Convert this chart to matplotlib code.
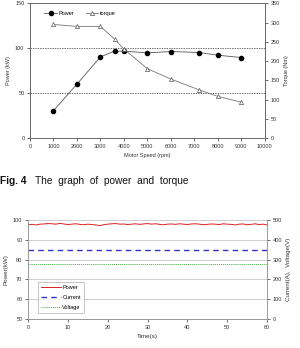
import matplotlib.pyplot as plt

plt.rcParams['font.family'] = ['Liberation Sans', 'DejaVu Sans']

# top chart data
rpm = [1000, 2000, 3000, 3600, 4000, 5000, 6000, 7200, 8000, 9000]
power_kw = [30.4, 60, 90.4, 96.7, 96.7, 94.8, 96.3, 95.2, 92.2, 89.6]
torque_nm = [295, 290, 290, 257, 231, 180, 153, 125, 108, 93]

# bottom chart data (sampled every second)
time_s = list(range(0, 61))
power_t = [97.6, 97.8, 97.5, 97.9, 98.0, 98.2, 98.1, 97.9, 98.3, 98.0,
           97.7, 97.9, 98.1, 97.8, 97.6, 97.9, 97.7, 97.5, 97.2, 97.6,
           97.9, 98.1, 98.2, 97.9, 98.0, 97.7, 97.9, 98.1, 97.8, 98.0,
           98.2, 97.9, 98.1, 97.8, 97.6, 97.9, 98.0, 97.8, 98.1, 97.9,
           97.7, 98.0, 98.1, 97.9, 97.6, 97.8, 98.0, 97.9, 97.7, 98.1,
           97.9, 97.8, 97.5, 97.9, 98.0, 97.6, 97.8, 98.1, 97.7, 97.9, 97.5]
current_a = [350] * len(time_s)
voltage_v = [280] * len(time_s)

fig = plt.figure(figsize=(3.0, 3.48), dpi=100)

fs = 4
tick_c = '#333333'

# ---- top chart ----
ax1 = fig.add_axes([0.1, 1 - 138 / 348, 0.783, 134.7 / 348])
ax1.plot(rpm, power_kw, color='#555555', lw=0.6, marker='o', ms=3,
         mfc='black', mec='black', label='Power')
ax1.set_xlim(0, 10000)
ax1.set_ylim(0, 150)
ax1.set_xticks(range(0, 10001, 1000))
ax1.set_yticks([0, 50, 100, 150])
ax1.axhline(100, color='#333333', lw=0.5, ls=(0, (2, 1.5)))
ax1.axhline(50, color='#333333', lw=0.5, ls=(0, (2, 1.5)))
ax1.set_ylabel('Power (kW)', fontsize=fs, color=tick_c, labelpad=3)
ax1.set_xlabel('Motor Speed (rpm)', fontsize=fs, color=tick_c, labelpad=3)
ax1.tick_params(labelsize=fs, colors=tick_c, length=2, width=0.5, pad=2)

ax2 = ax1.twinx()
ax2.plot(rpm, torque_nm, color='#777777', lw=0.6, marker='^', ms=3,
         mfc='white', mec='#555555', mew=0.5, label='torque')
ax2.set_ylim(0, 350)
ax2.set_yticks(range(0, 351, 50))
ax2.set_ylabel('Torque (Nm)', fontsize=fs, color=tick_c, labelpad=3)
ax2.tick_params(labelsize=fs, colors=tick_c, length=2, width=0.5, pad=2)
for ax in (ax1, ax2):
    for s in ax.spines.values():
        s.set_linewidth(0.6)
        s.set_color('#666666')

h1, l1 = ax1.get_legend_handles_labels()
h2, l2 = ax2.get_legend_handles_labels()
ax1.legend(h1 + h2, l1 + l2, loc='upper left', bbox_to_anchor=(0.04, 0.98),
           ncol=2, frameon=False, fontsize=fs, handlelength=2.2,
           columnspacing=2.2, handletextpad=0.3)

# caption
cap_y = 1 - 181 / 348
fig.text(0.0, cap_y, 'Fig. 4', fontsize=7.3, fontweight='bold',
         va='center', ha='left', color='#111111')
fig.text(0.117, cap_y, 'The  graph  of  power  and  torque', fontsize=7.3,
         va='center', ha='left', color='#111111')

# ---- bottom chart ----
ax3 = fig.add_axes([0.0933, 1 - 319 / 348, 0.797, 99 / 348])
ax3.plot(time_s, power_t, color='#e02020', lw=0.7, label='Power')
ax3.set_xlim(0, 60)
ax3.set_ylim(50, 100)
ax3.set_xticks(range(0, 61, 10))
ax3.set_yticks(range(50, 101, 10))
ax3.grid(axis='y', color='#bbbbbb', lw=0.5)
ax3.set_axisbelow(True)
ax3.set_xlabel('Time(s)', fontsize=4.5, color=tick_c, labelpad=3)
ax3.set_ylabel('Power(kW)', fontsize=4.5, color=tick_c, labelpad=3)
ax3.tick_params(labelsize=fs, colors=tick_c, length=2, width=0.5, pad=2)

ax4 = ax3.twinx()
ax4.plot(time_s, current_a, color='#3333cc', lw=1.0, ls=(0, (4, 3)), label='Current')
ax4.plot(time_s, voltage_v, color='#44aa44', lw=0.7, ls=(0, (1, 1)), label='Voltage')
ax4.set_ylim(0, 500)
ax4.set_yticks(range(0, 501, 100))
ax4.set_ylabel('Current(A),  Voltage(V)', fontsize=4.5, color=tick_c, labelpad=3)
ax4.tick_params(labelsize=fs, colors=tick_c, length=2, width=0.5, pad=2)
for ax in (ax3, ax4):
    for s in ax.spines.values():
        s.set_linewidth(0.6)
        s.set_color('#999999')
    ax.spines['top'].set_visible(False)

h3, l3 = ax3.get_legend_handles_labels()
h4, l4 = ax4.get_legend_handles_labels()
leg = ax4.legend(h3 + h4, l3 + l4, loc='lower left', bbox_to_anchor=(0.03, 0.03),
                 fontsize=fs, frameon=True, fancybox=False, handlelength=3.5,
                 borderpad=0.6, labelspacing=0.9, handletextpad=0.3)
leg.get_frame().set_edgecolor('#999999')
leg.get_frame().set_linewidth(0.5)

fig.savefig('out.png', dpi=100)
